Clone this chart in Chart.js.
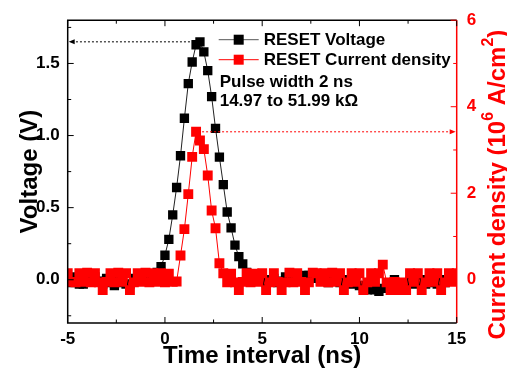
<!DOCTYPE html>
<html>
<head>
<meta charset="utf-8">
<script src="https://cdn.jsdelivr.net/npm/chart.js@4/dist/chart.umd.min.js"></script>
<style>
  html, body { margin: 0; padding: 0; background: #fff; }
</style>
</head>
<body>
<canvas id="pulseChart" width="507" height="372"></canvas>
<script>
// --- data ---
const timeNs = [
  -5, -4.8, -4.6, -4.4, -4.2, -4, -3.8, -3.6, -3.4, -3.2,
  -3, -2.8, -2.6, -2.4, -2.2, -2, -1.8, -1.6, -1.4, -1.2,
  -1, -0.8, -0.6, -0.4, -0.2, 0, 0.2, 0.4, 0.6, 0.8,
  1, 1.2, 1.4, 1.6, 1.8, 2, 2.2, 2.4, 2.6, 2.8,
  3, 3.2, 3.4, 3.6, 3.8, 4, 4.2, 4.4, 4.6, 4.8,
  5, 5.2, 5.4, 5.6, 5.8, 6, 6.2, 6.4, 6.6, 6.8,
  7, 7.2, 7.4, 7.6, 7.8, 8, 8.2, 8.4, 8.6, 8.8,
  9, 9.2, 9.4, 9.6, 9.8, 10, 10.2, 10.4, 10.6, 10.8,
  11, 11.2, 11.4, 11.6, 11.8, 12, 12.2, 12.4, 12.6, 12.8,
  13, 13.2, 13.4, 13.6, 13.8, 14, 14.2, 14.4, 14.6, 14.8,
  15
];

// RESET voltage (V)
const resetVoltage = [
  0.01, -0.02, 0.02, -0.03, -0.03, 0.00, -0.01, 0.02, -0.01, -0.03,
  0.01, -0.02, -0.04, 0.00, -0.02, -0.03, -0.03, 0.01, -0.01, 0.02,
  0.00, 0.01, 0.02, 0.05, 0.09, 0.17, 0.28, 0.45, 0.64, 0.86,
  1.12, 1.36, 1.51, 1.63, 1.65, 1.58, 1.45, 1.27, 1.05, 0.85,
  0.66, 0.47, 0.36, 0.24, 0.16, 0.11, 0.05, 0.03, 0.01, -0.01,
  0.02, -0.02, 0.00, 0.01, -0.02, -0.01, 0.02, 0.00, -0.01, 0.01,
  0.02, 0.03, 0.03, 0.02, 0.01, -0.01, 0.00, -0.02, -0.01, 0.01,
  -0.02, 0.00, -0.01, -0.03, -0.02, -0.04, -0.06, -0.07, -0.05, -0.07,
  -0.08, -0.06, -0.04, -0.02, 0.00, -0.03, -0.02, -0.04, -0.01, -0.03,
  -0.02, 0.00, -0.03, -0.02, -0.01, -0.03, 0.00, -0.02, 0.01, -0.01,
  0.00
];

// RESET current density (10^6 A/cm^2)
const currentDensity = [
  0.15, -0.05, -0.06, 0.15, -0.05, 0.16, -0.06, 0.15, -0.06, -0.24,
  -0.05, 0.15, -0.06, 0.16, -0.05, 0.15, -0.24, -0.06, 0.15, -0.05,
  0.16, -0.06, 0.15, -0.05, 0.15, -0.06, 0.14, -0.05, -0.04, 0.56,
  1.17, 1.98, 2.84, 3.42, 3.22, 3.02, 2.41, 1.60, 1.19, 0.38,
  0.15, -0.06, 0.14, -0.06, -0.24, -0.05, 0.15, -0.06, 0.14, -0.05,
  0.15, -0.24, -0.06, 0.15, -0.05, -0.24, -0.06, 0.16, -0.06, 0.15,
  -0.05, -0.24, -0.06, 0.16, 0.15, -0.05, 0.15, -0.06, 0.16, -0.05,
  0.15, -0.24, -0.06, 0.15, -0.05, 0.15, -0.24, -0.06, 0.15, -0.05,
  0.15, 0.35, -0.06, -0.24, -0.05, -0.24, -0.06, -0.24, 0.15, -0.05,
  0.15, -0.24, -0.06, 0.15, -0.05, 0.15, -0.24, -0.06, 0.15, -0.05,
  0.15
];

const xMajorTicks = [-5, 0, 5, 10, 15];
const xMinorTicks = [-2.5, 2.5, 7.5, 12.5];
const voltageTicks = [0, 0.5, 1.0, 1.5];
const voltageMinorTicks = [-0.25, 0.25, 0.75, 1.25, 1.75];
const currentTicks = [0, 2, 4, 6];
const currentMinorTicks = [1, 3, 5];
const seriesNames = ['RESET Voltage', 'RESET Current density'];
const noteLines = ['Pulse width 2 ns', '14.97 to 51.99 k\u03A9'];

const FONT = "'Liberation Sans', Arial, Helvetica, sans-serif";
const RED = '#ff0000';

// --- box, inward ticks, arrows, legend and right title ---
const framePlugin = {
  id: 'frameTicks',
  afterDatasetsDraw(chart) {
    const { ctx, chartArea: a, scales } = chart;
    const xs = scales.x, ys = scales.y, ys2 = scales.y2;
    ctx.save();

    // peak arrows
    ctx.lineWidth = 1;
    ctx.setLineDash([2, 2]);
    let iv = resetVoltage.indexOf(Math.max(...resetVoltage));
    let pv = ys.getPixelForValue(resetVoltage[iv]);
    ctx.strokeStyle = '#000';
    ctx.beginPath();
    ctx.moveTo(xs.getPixelForValue(timeNs[iv]) - 6, pv);
    ctx.lineTo(a.left + 6, pv);
    ctx.stroke();
    let ic = currentDensity.indexOf(Math.max(...currentDensity));
    let pc = ys2.getPixelForValue(currentDensity[ic]);
    ctx.strokeStyle = RED;
    ctx.beginPath();
    ctx.moveTo(xs.getPixelForValue(timeNs[ic]) + 6, pc);
    ctx.lineTo(a.right - 6, pc);
    ctx.stroke();
    ctx.setLineDash([]);
    ctx.fillStyle = '#000';
    ctx.beginPath();
    ctx.moveTo(a.left + 1, pv);
    ctx.lineTo(a.left + 7, pv - 2.5);
    ctx.lineTo(a.left + 7, pv + 2.5);
    ctx.fill();
    ctx.fillStyle = RED;
    ctx.beginPath();
    ctx.moveTo(a.right - 1, pc);
    ctx.lineTo(a.right - 7, pc - 2.5);
    ctx.lineTo(a.right - 7, pc + 2.5);
    ctx.fill();

    // frame
    ctx.lineWidth = 1.5;
    ctx.strokeStyle = '#000';
    ctx.beginPath();
    ctx.moveTo(a.right, a.top);
    ctx.lineTo(a.left, a.top);
    ctx.lineTo(a.left, a.bottom);
    ctx.lineTo(a.right, a.bottom);
    ctx.stroke();
    ctx.strokeStyle = RED;
    ctx.beginPath();
    ctx.moveTo(a.right, a.top);
    ctx.lineTo(a.right, a.bottom);
    ctx.stroke();

    // ticks
    ctx.lineWidth = 1;
    ctx.strokeStyle = '#000';
    const xTick = (v, len) => {
      const px = xs.getPixelForValue(v);
      ctx.beginPath();
      ctx.moveTo(px, a.bottom); ctx.lineTo(px, a.bottom - len);
      ctx.moveTo(px, a.top); ctx.lineTo(px, a.top + len);
      ctx.stroke();
    };
    xMajorTicks.forEach(v => xTick(v, 6));
    xMinorTicks.forEach(v => xTick(v, 3.5));
    const yTick = (v, len) => {
      const py = ys.getPixelForValue(v);
      ctx.beginPath();
      ctx.moveTo(a.left, py); ctx.lineTo(a.left + len, py);
      ctx.stroke();
    };
    voltageTicks.forEach(v => yTick(v, 6));
    voltageMinorTicks.forEach(v => yTick(v, 3.5));
    ctx.strokeStyle = RED;
    const y2Tick = (v, len) => {
      const py = ys2.getPixelForValue(v);
      ctx.beginPath();
      ctx.moveTo(a.right, py); ctx.lineTo(a.right - len, py);
      ctx.stroke();
    };
    currentTicks.forEach(v => y2Tick(v, 6));
    currentMinorTicks.forEach(v => y2Tick(v, 3.5));

    // legend
    const lx = a.left + 151, tx = a.left + 196;
    const colors = [['#555', '#000'], [RED, RED]];
    const rows = [a.top + 19.5, a.top + 39.5];
    ctx.font = 'bold 17px ' + FONT;
    ctx.textBaseline = 'middle';
    ctx.textAlign = 'left';
    rows.forEach((y, i) => {
      ctx.strokeStyle = colors[i][0];
      ctx.lineWidth = 1;
      ctx.beginPath();
      ctx.moveTo(lx, y); ctx.lineTo(lx + 40, y);
      ctx.stroke();
      ctx.fillStyle = colors[i][1];
      ctx.fillRect(lx + 15, y - 5, 10, 10);
      ctx.fillStyle = '#000';
      ctx.fillText(seriesNames[i], tx, y + 0.5);
    });
    ctx.fillText(noteLines[0], lx + 1, a.top + 62);
    ctx.fillText(noteLines[1], lx + 1, a.top + 81);

    // right axis title with superscripts
    ctx.fillStyle = RED;
    ctx.translate(498, (a.top + a.bottom) / 2 + 13);
    ctx.rotate(-Math.PI / 2);
    const parts = [['Current density (10', false], ['6', true], [' A/cm', false], ['2', true], [')', false]];
    const big = 'bold 24px ' + FONT, small = 'bold 16px ' + FONT;
    let w = 0;
    parts.forEach(p => { ctx.font = p[1] ? small : big; w += ctx.measureText(p[0]).width; });
    let cx = -w / 2;
    parts.forEach(p => {
      ctx.font = p[1] ? small : big;
      ctx.fillText(p[0], cx, p[1] ? -9 : 0);
      cx += ctx.measureText(p[0]).width;
    });
    ctx.restore();
  }
};

const points = vals => timeNs.map((t, i) => ({ x: t, y: vals[i] }));

new Chart(document.getElementById('pulseChart'), {
  type: 'line',
  data: {
    datasets: [
      {
        label: seriesNames[1],
        data: points(currentDensity),
        yAxisID: 'y2',
        borderColor: RED,
        backgroundColor: RED,
        borderWidth: 1,
        pointStyle: 'rect',
        pointRadius: 7,
        pointBorderWidth: 0,
        tension: 0,
        order: 0
      },
      {
        label: seriesNames[0],
        data: points(resetVoltage),
        yAxisID: 'y',
        borderColor: '#222',
        backgroundColor: '#000',
        borderWidth: 1,
        pointStyle: 'rect',
        pointRadius: 6.6,
        pointBorderWidth: 0,
        tension: 0,
        order: 1
      }
    ]
  },
  options: {
    responsive: false,
    animation: false,
    devicePixelRatio: 1,
    layout: { padding: { top: 14, left: 0, right: 0, bottom: 0 } },
    plugins: { legend: { display: false }, tooltip: { enabled: false } },
    scales: {
      x: {
        type: 'linear',
        min: -5, max: 15,
        grid: { display: false, drawTicks: false },
        border: { display: false },
        afterBuildTicks: s => { s.ticks = xMajorTicks.map(v => ({ value: v })); },
        afterFit: s => { s.height = 49; },
        ticks: { color: '#000', padding: 6, font: { family: FONT, size: 17, weight: 'bold' }, maxRotation: 0 },
        title: {
          display: true, text: 'Time interval (ns)', color: '#000',
          font: { family: FONT, size: 24, weight: 'bold', lineHeight: 1.2 },
          padding: { top: 0, bottom: 1 }
        }
      },
      y: {
        position: 'left',
        min: -0.3, max: 1.8,
        grid: { display: false, drawTicks: false },
        border: { display: false },
        afterBuildTicks: s => { s.ticks = voltageTicks.map(v => ({ value: v })); },
        afterFit: s => { s.width = 67.7; },
        ticks: {
          color: '#000', padding: 8,
          font: { family: FONT, size: 17, weight: 'bold' },
          callback: v => v.toFixed(1)
        },
        title: {
          display: true, text: 'Voltage (V)', color: '#000',
          font: { family: FONT, size: 24, weight: 'bold', lineHeight: 1.2 },
          padding: { top: 16, bottom: 0 }
        }
      },
      y2: {
        position: 'right',
        min: -1, max: 6,
        grid: { display: false, drawTicks: false },
        border: { display: false },
        afterBuildTicks: s => { s.ticks = currentTicks.map(v => ({ value: v })); },
        afterFit: s => { s.width = 50.3; },
        ticks: {
          color: RED, padding: 10,
          font: { family: FONT, size: 17, weight: 'bold' },
          callback: v => String(v)
        }
      }
    }
  },
  plugins: [framePlugin]
});
</script>
</body>
</html>
